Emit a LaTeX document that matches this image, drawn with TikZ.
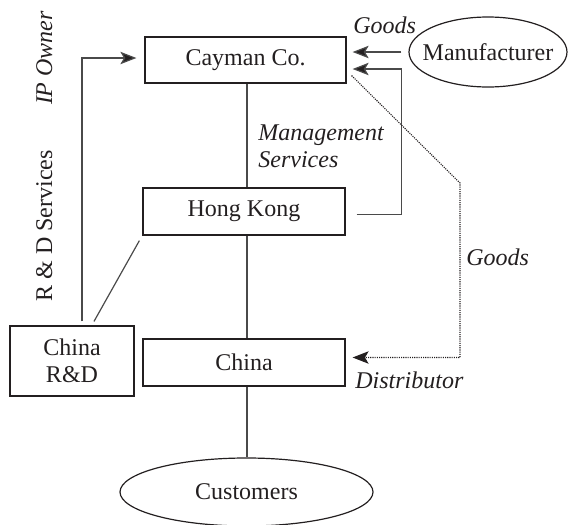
\documentclass[tikz,border=0pt]{standalone}
\usepackage{fontspec}
\setmainfont{Liberation Serif}
\usetikzlibrary{arrows.meta,shapes.geometric,calc}

\definecolor{ink}{HTML}{231F20}
\definecolor{wire}{HTML}{4A4A4A}

\tikzset{
  entity/.style={draw=ink, line width=0.6pt, rectangle, inner sep=0pt,
    text=ink, font=\fontsize{12}{13.5}\selectfont, align=center},
  party/.style={draw=ink, line width=0.6pt, ellipse, inner sep=0pt,
    text=ink, font=\fontsize{12}{13.5}\selectfont},
  conn/.style={draw=wire, line width=0.6pt},
  flow/.style={conn, -{Stealth[length=8pt,width=6.2pt,inset=1.8pt,fill=ink]}},
  goodsflow/.style={draw=ink, line width=0.55pt,
    dash pattern=on 0.55pt off 0.55pt,
    -{Stealth[length=8pt,width=6.2pt,inset=1.8pt,fill=ink]}},
  note/.style={text=ink, inner sep=0pt, font=\fontsize{12}{13.5}\selectfont\itshape},
  sidelabel/.style={text=ink, inner sep=0pt, rotate=90, anchor=base,
    font=\fontsize{12}{13.5}\selectfont}
}

\begin{document}
\begin{tikzpicture}[x=0.5pt, y=-0.5pt]
  \useasboundingbox (0,0) rectangle (568,525);

  % entities
  \node[entity, minimum width=100.5pt, minimum height=23pt] (cayman) at (245.5,60) {Cayman Co.};
  \node[entity, minimum width=101pt, minimum height=23.5pt] (hk) at (244,211.5) {Hong Kong};
  \node[entity, minimum width=101pt, minimum height=23.5pt] (china) at (244,362.5) {China};
  \node[entity, minimum width=62pt, minimum height=35pt] (rd) at (72,361) {China\\R\&D};
  \node[party, inner xsep=-6pt, minimum width=79pt, minimum height=35pt] (maker) at (488,52) {Manufacturer};
  \node[party, minimum width=126.5pt, minimum height=34pt] (cust) at (246.5,492) {Customers};

  % ownership chain down the middle
  \coordinate (spine) at ($(cayman.south)+(1.5,0)$);
  \draw[conn] (spine) -- (spine |- hk.north);
  \draw[conn] (spine |- hk.south) -- (spine |- china.north);
  \draw[conn] (spine |- china.south) -- (spine |- cust.north);

  % goods from the manufacturer
  \draw[flow] ($(maker.west)+(-7,0)$) -- ($(cayman.east)+(6,-8)$);
  % management services
  \draw[flow] ($(hk.east)+(11,3)$) -| ($(maker.west)+(-7,17)$) -- ($(cayman.east)+(6,9)$);
  % goods to the distributor
  \coordinate (bend) at (460,183);
  \draw[goodsflow] ($(cayman.south east)+(5,-8)$) -- (bend) |- ($(china.east)+(7,-5)$);
  % R & D services
  \draw[flow] ($(rd.north)+(10,-4)$) |- ($(cayman.west)+(-8,-2)$);
  \draw[conn] ($(rd.north)+(22,-4)$) -- ($(hk.south west)+(-3,5)$);

  % labels
  \node[note, anchor=base west] (goodsin) at (353,33) {Goods};
  \node[note, anchor=base west] (goodsout) at (466,265) {Goods};
  \node[note, anchor=base west] (distrib) at (355,388) {Distributor};
  \node[note, anchor=base west, align=left] (mgmt) at (258,167) {Management\\Services};
  \node[sidelabel, font=\fontsize{12}{13.5}\selectfont\itshape] (ipowner) at (52,58) {IP Owner};
  \node[sidelabel] (rdserv) at (52,226) {R \& D Services};
\end{tikzpicture}
\end{document}
